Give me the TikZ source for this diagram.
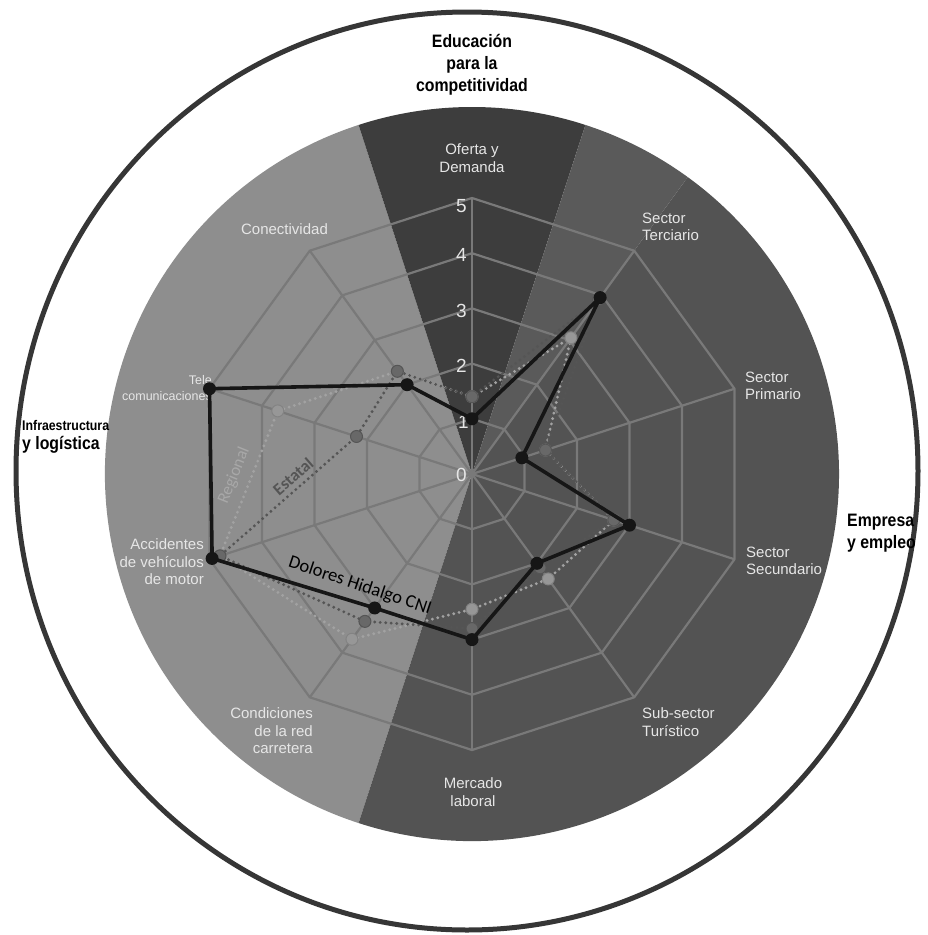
\documentclass[tikz,border=0pt]{standalone}
\usepackage{fontspec}
\setmainfont{Liberation Sans}
\newfontfamily\catfont[FakeStretch=0.88]{Liberation Sans}
\newfontfamily\humfont{Carlito}
\definecolor{lightreg}{HTML}{8E8E8E}
\definecolor{darkwedge}{HTML}{3D3D3D}
\definecolor{rightreg}{HTML}{535353}
\definecolor{bandreg}{HTML}{5A5A5A}
\definecolor{gridcol}{HTML}{797979}
\definecolor{ringcol}{HTML}{363636}
\definecolor{labcol}{HTML}{E6E6E6}
\definecolor{regcol}{HTML}{A2A2A2}
\definecolor{regtext}{HTML}{A8A8A8}
\definecolor{regfill}{HTML}{979797}
\definecolor{regedge}{HTML}{838383}
\definecolor{estcol}{HTML}{555555}
\definecolor{estfill}{HTML}{686868}
\definecolor{estedge}{HTML}{555555}
\definecolor{dhcol}{HTML}{161616}
\begin{document}
\begin{tikzpicture}[x=1pt,y=-1pt,
  gridline/.style={draw=gridcol,line width=2.2pt,line join=round},
  catlbl/.style={font=\catfont\bfseries\fontsize{18}{22}\selectfont,text=black,inner sep=0pt},
  axlbl/.style={font=\fontsize{15}{17.5}\selectfont,text=labcol,inner sep=0pt},
  scalelbl/.style={font=\fontsize{19}{22}\selectfont,text=labcol,inner sep=0pt,anchor=east},
  regline/.style={draw=regcol,line width=3.2pt,line cap=round,dash pattern=on 0pt off 5.5pt},
  estline/.style={draw=estcol,line width=3.2pt,line cap=round,dash pattern=on 0pt off 5.5pt},
  dhline/.style={draw=dhcol,line width=3.6pt,line join=round},
  regdot/.style={fill=regfill,draw=regedge,line width=1pt},
  estdot/.style={fill=estfill,draw=estedge,line width=1pt},
  dhdot/.style={fill=dhcol}]
\useasboundingbox (0,0) rectangle (928,935);
\fill[white] (0,0) rectangle (928,935);
% outer ring
\draw[ringcol,line width=5pt] (467,471) ellipse [x radius=451, y radius=459];
\begin{scope}[shift={(472,474)},yscale=-1]
  % sectors
  \fill[lightreg] (0,0) -- (108:367) arc[start angle=108,end angle=252,radius=367] -- cycle;
  \fill[darkwedge] (0,0) -- (72:367) arc[start angle=72,end angle=108,radius=367] -- cycle;
  \fill[rightreg] (0,0) -- (-108:367) arc[start angle=-108,end angle=54,radius=367] -- cycle;
  \fill[bandreg] (0,0) -- (54:367) arc[start angle=54,end angle=72,radius=367] -- cycle;
  % grid
  \foreach \r in {1,...,5} {
    \draw[gridline] (90:\r*55.2) \foreach \a in {54,18,-18,-54,-90,-126,-162,-198,-234}{ -- (\a:\r*55.2)} -- cycle;
  }
  \foreach \a in {90,54,...,-234} \draw[gridline] (0,0) -- (\a:276);
  % data coordinates
  \foreach \v [count=\i from 0] in {1,3.95,0.95,3,2,3,3,4.95,5,2}
    \coordinate (d\i) at ({90-36*\i}:{\v*55.2});
  \foreach \v [count=\i from 0] in {1.4,3.05,1.4,2.7,2.35,2.45,3.7,4.8,3.7,2.3}
    \coordinate (r\i) at ({90-36*\i}:{\v*55.2});
  \foreach \v [count=\i from 0] in {1.4,3.9,1.4,2.7,2.1,2.8,3.3,4.8,2.2,2.3}
    \coordinate (e\i) at ({90-36*\i}:{\v*55.2});
\end{scope}
% category labels
\node[catlbl,align=center] (tEdu) at (472,65) {Educación\\para la\\competitividad};
\node[catlbl,font=\catfont\bfseries\fontsize{14}{16}\selectfont,anchor=west] (tInfA) at (22,425) {Infraestructura};
\node[catlbl,anchor=west] (tInfB) at (22,445) {y logística};
\node[catlbl,align=left,anchor=west] (tEmp) at (847,533) {Empresa\\y empleo};
% axis labels
\node[axlbl,align=center] (lOf) at (472,158) {Oferta y\\Demanda};
\node[axlbl,align=left,anchor=west] (lTer) at (642,227) {Sector\\Terciario};
\node[axlbl,align=left,anchor=west] (lPri) at (745,386) {Sector\\Primario};
\node[axlbl,align=left,anchor=west] (lSec) at (746,561) {Sector\\Secundario};
\node[axlbl,align=left,anchor=west] (lTur) at (642,722) {Sub-sector\\Turístico};
\node[axlbl,align=center] (lMer) at (473,792) {Mercado\\laboral};
\node[axlbl,align=right,anchor=east] (lCon) at (313,731) {Condiciones\\de la red\\carretera};
\node[axlbl,align=right,anchor=east] (lAcc) at (204,562) {Accidentes\\de vehículos\\de motor};
\node[axlbl,font=\fontsize{12.5}{16}\selectfont,align=right,anchor=east] (lTel) at (212,388) {Tele\\comunicaciones};
\node[axlbl] (lCnx) at (284.5,229) {Conectividad};
% scale numbers
\node[scalelbl] (n5) at (467,206) {5};
\node[scalelbl] (n4) at (467,255) {4};
\node[scalelbl] (n3) at (467,311) {3};
\node[scalelbl] (n2) at (467,366) {2};
\node[scalelbl] (n1) at (469,422) {1};
\node[scalelbl] (n0) at (467,475) {0};
% series names
\node[font=\humfont\fontsize{17}{20}\selectfont,text=regtext,rotate=68,inner sep=0pt] (sReg) at (234,475.5) {Regional};
\node[font=\humfont\bfseries\fontsize{17}{20}\selectfont,text=estcol,rotate=41,inner sep=0pt] (sEst) at (293,476.5) {Estatal};
\node[font=\humfont\fontsize{18.5}{22}\selectfont,text=black,rotate=-18.5,inner sep=0pt] (sDH) at (360,586) {Dolores Hidalgo CNI};
% series
\draw[regline] (r0) -- (r1) -- (r2) -- (r3) -- (r4) -- (r5) -- (r6) -- (r7) -- (r8) -- (r9) -- cycle;
\draw[estline] (e0) -- (e1) -- (e2) -- (e3) -- (e4) -- (e5) -- (e6) -- (e7) -- (e8) -- (e9) -- cycle;
\foreach \i in {0,...,9} \filldraw[regdot] (r\i) circle[radius=6];
\foreach \i in {0,...,9} \filldraw[estdot] (e\i) circle[radius=6];
\draw[dhline] (d0) -- (d1) -- (d2) -- (d3) -- (d4) -- (d5) -- (d6) -- (d7) -- (d8) -- (d9) -- cycle;
\foreach \i in {0,...,9} \fill[dhdot] (d\i) circle[radius=6.5];
\end{tikzpicture}
\end{document}
